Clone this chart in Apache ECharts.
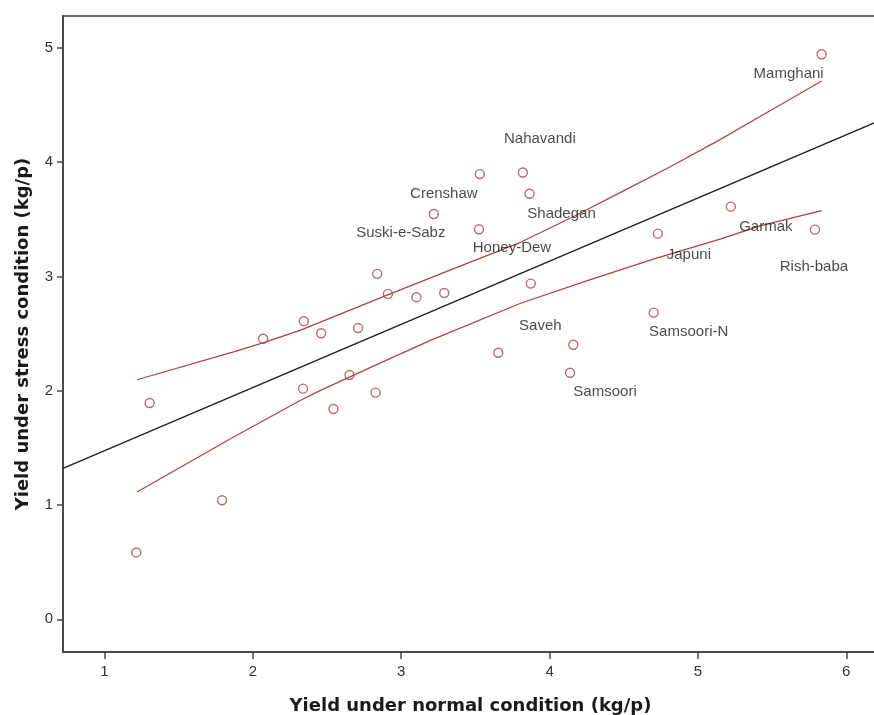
<!DOCTYPE html>
<html>
<head>
<meta charset="utf-8">
<script src="https://cdn.jsdelivr.net/npm/echarts@6/dist/echarts.min.js"></script>
<style>
html,body{margin:0;padding:0;background:#fff;overflow:hidden;}
#chart{width:874px;height:715px;}
</style>
</head>
<body>
<div id="chart"></div>
<script>
// ---- data ----
const normalYield = [1.214, 1.304, 1.792, 2.069, 2.338, 2.343, 2.46, 2.543, 2.651, 2.709,
  2.827, 2.838, 2.91, 3.103, 3.22, 3.29, 3.524, 3.53, 3.654, 3.82,
  3.865, 3.873, 4.138, 4.16, 4.702, 4.73, 5.222, 5.789, 5.834];
const stressYield = [0.585, 1.892, 1.042, 2.454, 2.018, 2.608, 2.503, 1.84, 2.137, 2.548,
  1.983, 3.022, 2.847, 2.818, 3.546, 2.855, 3.412, 3.895, 2.332, 3.909,
  3.723, 2.937, 2.157, 2.402, 2.683, 3.374, 3.61, 3.409, 4.943];
const genotypeLabels = ['', '', '', '', '', '', '', '', '', '',
  '', '', '', '', 'Suski-e-Sabz', '', 'Honey-Dew', 'Crenshaw', '', 'Nahavandi',
  'Shadegan', '', 'Samsoori', 'Saveh', 'Samsoori-N', 'Japuni', 'Garmak', 'Rish-baba', 'Mamghani'];

// fit line (read at the plot edges)
const fitX = [0.72, 6.22];
const fitY = [1.32, 4.36];
// 95% confidence band curves
const upperX = [1.219, 1.87, 2.073, 2.322, 2.909, 3.333, 3.805, 4.142, 4.479, 4.817, 5.155, 5.425, 5.834];
const upperY = [2.096, 2.34, 2.42, 2.53, 2.838, 3.057, 3.298, 3.511, 3.735, 3.962, 4.201, 4.404, 4.71];
const lowerX = [1.219, 1.87, 2.322, 2.456, 2.905, 3.197, 3.805, 4.255, 4.705, 5.155, 5.425, 5.834];
const lowerY = [1.114, 1.595, 1.916, 2.003, 2.27, 2.44, 2.765, 2.963, 3.153, 3.328, 3.444, 3.575];

const xTicks = [1, 2, 3, 4, 5, 6];
const yTicks = [0, 1, 2, 3, 4, 5];

const xTitle = 'Yield under normal condition (kg/p)';
const yTitle = 'Yield under stress condition (kg/p)';

// ---- styling (label placement relative to its point, in pixels) ----
const labelOffsets = {
  'Mamghani': [-33, 20], 'Nahavandi': [17, -34], 'Crenshaw': [-36, 20],
  'Shadegan': [32, 20], 'Suski-e-Sabz': [-33, 19], 'Honey-Dew': [33, 19],
  'Garmak': [35, 20], 'Japuni': [31, 21], 'Rish-baba': [-1, 37],
  'Saveh': [-33, -19], 'Samsoori-N': [35, 19], 'Samsoori': [35, 19]
};

const pts = normalYield.map((x, i) => {
  const nm = genotypeLabels[i];
  const item = { value: [x, stressYield[i]], name: nm };
  if (nm) {
    item.label = { show: true, offset: labelOffsets[nm] };
  }
  return item;
});
const pair = (xs, ys) => xs.map((x, i) => [x, ys[i]]);

const axisColor = '#4a4a4a';
const chart = echarts.init(document.getElementById('chart'), null, { renderer: 'canvas' });
chart.setOption({
  backgroundColor: '#ffffff',
  animation: false,
  grid: {
    left: 63, top: 16, width: 815, bottom: 63,
    outerBoundsMode: 'none', containLabel: false,
    show: true, borderColor: '#6e6e6e', borderWidth: 2, backgroundColor: 'transparent'
  },
  xAxis: {
    type: 'value', min: 0.72, max: 6.214,
    name: xTitle, nameLocation: 'middle', nameGap: 45,
    nameTextStyle: { fontFamily: 'DejaVu Sans', fontWeight: 'bold', fontSize: 18, color: '#1a1a1a' },
    axisLine: { show: true, onZero: false, lineStyle: { color: axisColor, width: 2 } },
    axisTick: { show: true, length: 7, customValues: xTicks, lineStyle: { color: axisColor, width: 1.5 } },
    axisLabel: { customValues: xTicks, margin: 12, fontFamily: 'Liberation Sans', fontSize: 15, color: '#333' },
    splitLine: { show: false }
  },
  yAxis: {
    type: 'value', min: -0.286, max: 5.278,
    name: yTitle, nameLocation: 'middle', nameGap: 31,
    nameTextStyle: { fontFamily: 'DejaVu Sans', fontWeight: 'bold', fontSize: 18, color: '#1a1a1a' },
    axisLine: { show: true, onZero: false, lineStyle: { color: axisColor, width: 2 } },
    axisTick: { show: true, length: 6, customValues: yTicks, lineStyle: { color: axisColor, width: 1.5 } },
    axisLabel: { customValues: yTicks, margin: 10, fontFamily: 'Liberation Sans', fontSize: 15, color: '#333' },
    splitLine: { show: false }
  },
  series: [
    {
      type: 'line', data: pair(fitX, fitY), symbol: 'none', silent: true,
      lineStyle: { color: '#1e1e1e', width: 1.3 }, z: 2
    },
    {
      type: 'line', data: pair(upperX, upperY), symbol: 'none', silent: true,
      lineStyle: { color: '#b04040', width: 1.2 }, z: 2
    },
    {
      type: 'line', data: pair(lowerX, lowerY), symbol: 'none', silent: true,
      lineStyle: { color: '#b04040', width: 1.2 }, z: 2
    },
    {
      type: 'scatter', data: pts, symbol: 'circle', symbolSize: 9, z: 3,
      itemStyle: { color: 'rgba(255,255,255,0)', borderColor: '#a34848', borderWidth: 1.4 },
      label: {
        show: false, position: 'inside', align: 'center', verticalAlign: 'middle',
        formatter: '{b}', fontFamily: 'Liberation Sans', fontSize: 15, color: '#1a1a1a'
      },
      emphasis: { disabled: true }
    }
  ]
});
</script>
</body>
</html>
